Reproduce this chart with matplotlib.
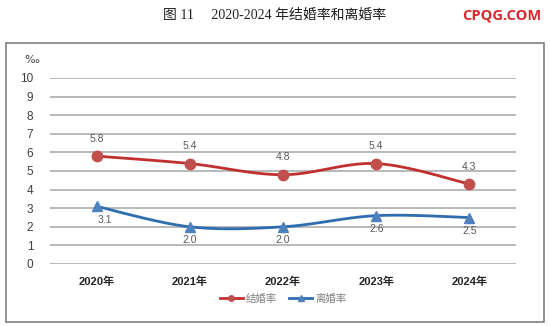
import numpy as np
import matplotlib.pyplot as plt
from matplotlib.patches import Rectangle

plt.rcParams['font.family'] = ['Liberation Sans', 'Noto Sans CJK SC', 'DejaVu Sans']

years = ['2020年', '2021年', '2022年', '2023年', '2024年']
marriage = [5.8, 5.4, 4.8, 5.4, 4.3]
divorce = [3.1, 2.0, 2.0, 2.6, 2.5]

red_line = '#C0302E'
red_mark = '#C0504D'
blue_line = '#2E6DB0'
blue_mark = '#4F81BD'
label_grey = '#595959'


def smooth(x, y, n=30):
    # cubic bezier through each point, like a spreadsheet's smoothed line
    x = np.asarray(x, float)
    y = np.asarray(y, float)
    px, py = [], []
    for i in range(len(x) - 1):
        x0, y0 = (x[i - 1], y[i - 1]) if i > 0 else (x[i], y[i])
        x3, y3 = (x[i + 2], y[i + 2]) if i + 2 < len(x) else (x[i + 1], y[i + 1])
        c1 = (x[i] + (x[i + 1] - x0) / 6, y[i] + (y[i + 1] - y0) / 6)
        c2 = (x[i + 1] - (x3 - x[i]) / 6, y[i + 1] - (y3 - y[i]) / 6)
        t = np.linspace(0, 1, n)
        bx = ((1 - t) ** 3 * x[i] + 3 * (1 - t) ** 2 * t * c1[0]
              + 3 * (1 - t) * t ** 2 * c2[0] + t ** 3 * x[i + 1])
        by = ((1 - t) ** 3 * y[i] + 3 * (1 - t) ** 2 * t * c1[1]
              + 3 * (1 - t) * t ** 2 * c2[1] + t ** 3 * y[i + 1])
        px.extend(bx)
        py.extend(by)
    return px, py


fig = plt.figure(figsize=(5.5, 3.26), dpi=100)
fig.patch.set_facecolor('white')

# outer frame
fig.patches.append(Rectangle((6 / 550, 4 / 326), 538 / 550, 279 / 326,
                             transform=fig.transFigure, fill=False,
                             edgecolor='#7F7F7F', linewidth=1.2))

fig.text(0.5, 1 - 15 / 326, '图 11     2020-2024 年结婚率和离婚率',
         ha='center', va='center', fontsize=10, color='#222222',
         family=['Liberation Serif', 'Noto Sans CJK SC'])
fig.text(0.985, 1 - 15 / 326, 'CPQG.COM', ha='right', va='center',
         fontsize=10.5, color='#D8282E', fontweight='bold',
         family=['Open Sans'])

ax = fig.add_axes([50 / 550, 1 - 264 / 326, 466 / 550, 186 / 326])
x = np.arange(len(years))

ax.set_xlim(-0.5, len(years) - 0.5)
ax.set_ylim(0, 10)
ax.set_yticks(range(0, 11))
ax.set_xticks(x)
ax.set_xticklabels(years, fontsize=8, color='#262626', fontweight='bold')
ax.tick_params(axis='y', labelsize=8.5, labelcolor='#404040', length=0, pad=12)
ax.tick_params(axis='x', length=0, pad=9)
ax.grid(axis='y', color='#A6A6A6', linewidth=1.1)
ax.set_axisbelow(True)
for s in ax.spines.values():
    s.set_visible(False)

ax.text(-0.039, 1.097, '‰', transform=ax.transAxes, fontsize=8,
        color='#404040', ha='center', va='center', family=['DejaVu Sans'])

sx, sy = smooth(x, marriage)
ax.plot(sx, sy, color=red_line, linewidth=2.0, zorder=3)
ax.plot(x, marriage, 'o', color=red_mark, markersize=7.5, zorder=4)
sx, sy = smooth(x, divorce)
ax.plot(sx, sy, color=blue_line, linewidth=2.0, zorder=3)
ax.plot(x, divorce, '^', color=blue_mark, markersize=7.5, zorder=4)

for i, v in enumerate(marriage):
    ax.annotate(f'{v:.1f}', (i, v), xytext=(0, 9), textcoords='offset points',
                ha='center', va='bottom', fontsize=7.5, color=label_grey)
for i, v in enumerate(divorce):
    dx = 6 if i == 0 else 0
    ax.annotate(f'{v:.1f}', (i, v), xytext=(dx, -6), textcoords='offset points',
                ha='center', va='top', fontsize=7.5, color=label_grey)

h1, = ax.plot([], [], color=red_line, linewidth=2.0, marker='o',
              markersize=4, markerfacecolor=red_mark, markeredgecolor=red_mark)
h2, = ax.plot([], [], color=blue_line, linewidth=2.0, marker='^',
              markersize=4, markerfacecolor=blue_mark, markeredgecolor=blue_mark)
fig.legend([h1, h2], ['结婚率', '离婚率'], loc='center',
           bbox_to_anchor=(283 / 550, 1 - 299 / 326), ncol=2, frameon=False,
           fontsize=7.5, labelcolor='#7F7F7F', handlelength=2.2,
           handletextpad=0.3, columnspacing=1.2)

fig.savefig('out.png', dpi=100)
